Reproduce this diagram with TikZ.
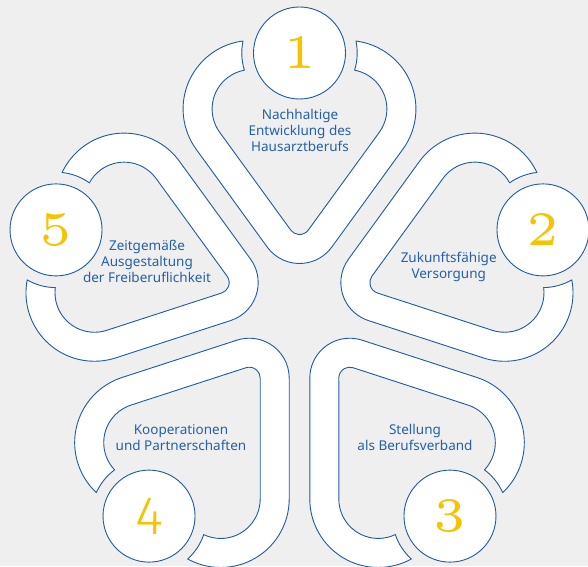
\documentclass[tikz,border=0pt]{standalone}
\usepackage{fontspec}
\newfontfamily\labelfont{Noto Sans}
\newfontfamily\fourfont{Fira Sans Light}
\newfontfamily\numfont{lmroman5-regular.otf}
\definecolor{lineblue}{HTML}{1F5AA3}
\definecolor{textblue}{HTML}{2560AA}
\definecolor{numgold}{HTML}{F7C300}
\definecolor{bggray}{HTML}{EFEFEF}
\tikzset{
  band/.style={fill=white, draw=lineblue, line width=0.9pt, line join=round},
  numcircle/.style={circle, fill=white, draw=lineblue, line width=0.9pt, minimum size=92pt, inner sep=0pt, text=numgold},
  numserif/.style={font=\numfont\fontsize{48}{48}\selectfont},
  numsans/.style={font=\fourfont\fontsize{54}{54}\selectfont},
  lbl/.style={text=textblue, align=center, font=\labelfont\fontsize{13.5}{16}\selectfont}
}
\newcommand\petalband{%
  \path[band] (-56.45,267.96)
    arc[start angle=97.17, end angle=216, radius=68.5pt]
    -- (-32.28,61.95)
    arc[start angle=216, end angle=324, radius=39.9pt]
    -- (103.32,159.74)
    arc[start angle=-36, end angle=82.83, radius=68.5pt]
    arc[start angle=11.96, end angle=-17.34, radius=57.7pt]
    arc[start angle=79.5, end angle=-36, radius=39.5pt]
    -- (8.82,78.99)
    arc[start angle=324, end angle=216, radius=10.9pt]
    -- (-79.86,176.78)
    arc[start angle=216, end angle=100.5, radius=39.5pt]
    arc[start angle=197.34, end angle=168.04, radius=57.7pt]
    -- cycle;}
\begin{document}
\begin{tikzpicture}[x=1pt,y=1pt]
\fill[bggray] (0,0) rectangle (588,566);
\useasboundingbox (0,0) rectangle (588,566);
\coordinate (O) at (299.5,257);
\foreach \k in {0,1,2,3,4}{
  \begin{scope}[shift={(299.5,257)}, rotate={-72*\k}]
    \petalband
  \end{scope}
}
\node[numcircle, numserif] (n1) at ([shift={(90:256)}]O) {1};
\node[numcircle, numserif] (n2) at ([shift={(18:256)}]O) {2};
\node[numcircle, numserif] (n3) at ([shift={(-54:256)}]O) {3};
\node[numcircle, numsans] (n4) at ([shift={(-126:256)}]O) {4};
\node[numcircle, numserif] (n5) at ([shift={(162:256)}]O) {5};
\node[lbl] (t1) at (300,436) {Nachhaltige\\Entwicklung des\\Hausarztberufs};
\node[lbl] (t2) at (448.7,299.4) {Zukunftsfähige\\Versorgung};
\node[lbl] (t3) at (415,128.1) {Stellung\\als Berufsverband};
\node[lbl] (t4) at (181,128.3) {Kooperationen\\und Partnerschaften};
\node[lbl] (t5) at (147,305) {Zeitgemäße\\Ausgestaltung\\der Freiberuflichkeit};
\end{tikzpicture}
\end{document}
